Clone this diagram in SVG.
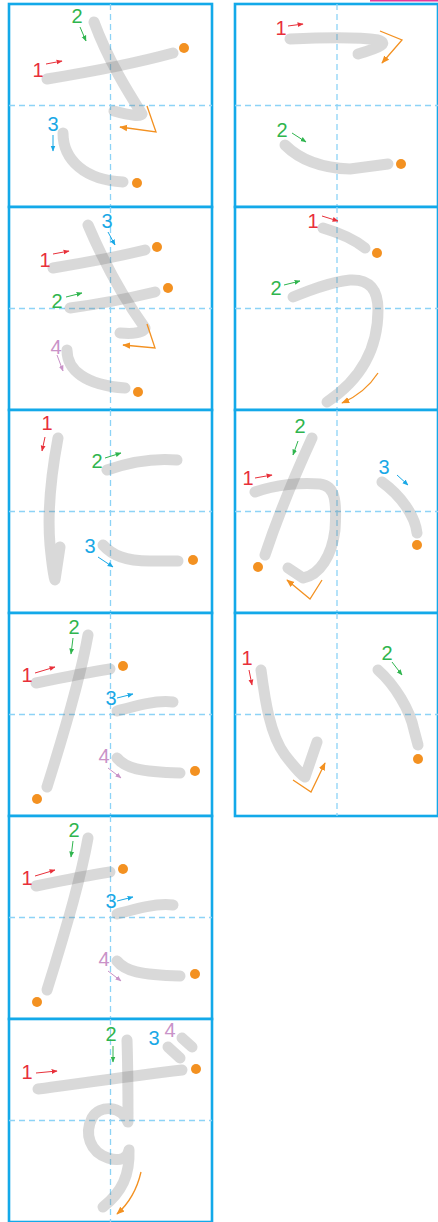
<svg xmlns="http://www.w3.org/2000/svg" width="438" height="1222" viewBox="0 0 438 1222">
<style>
.box{fill:#fff;stroke:#13a9e9;stroke-width:2.6}
.dash{stroke:#8dd3f6;stroke-width:1.3;stroke-dasharray:6 4;fill:none}
.st{fill:none;stroke:#777;stroke-opacity:0.28;stroke-width:11;stroke-linecap:round;stroke-linejoin:round}
.dot{fill:#f39121}
.n{font-family:"Liberation Sans",Arial,sans-serif;font-size:20px;text-anchor:middle}
.r{fill:#e8303a}.g{fill:#2fb54e}.b{fill:#19a8e6}.p{fill:#c993c8}
.ar{fill:none;stroke-width:1}
.or{fill:none;stroke:#f39121;stroke-width:1.3}
</style>
<defs>
<marker id="mr" viewBox="0 0 10 10" refX="9" refY="5" markerWidth="6" markerHeight="6" orient="auto" markerUnits="userSpaceOnUse"><path d="M0,1 L10,5 L0,9 z" fill="#e8303a"/></marker>
<marker id="mg" viewBox="0 0 10 10" refX="9" refY="5" markerWidth="6" markerHeight="6" orient="auto" markerUnits="userSpaceOnUse"><path d="M0,1 L10,5 L0,9 z" fill="#2fb54e"/></marker>
<marker id="mb" viewBox="0 0 10 10" refX="9" refY="5" markerWidth="6" markerHeight="6" orient="auto" markerUnits="userSpaceOnUse"><path d="M0,1 L10,5 L0,9 z" fill="#19a8e6"/></marker>
<marker id="mp" viewBox="0 0 10 10" refX="9" refY="5" markerWidth="6" markerHeight="6" orient="auto" markerUnits="userSpaceOnUse"><path d="M0,1 L10,5 L0,9 z" fill="#c993c8"/></marker>
<marker id="mo" viewBox="0 0 10 10" refX="9" refY="5" markerWidth="8" markerHeight="8" orient="auto" markerUnits="userSpaceOnUse"><path d="M0,1 L10,5 L0,9 z" fill="#f39121"/></marker>
</defs>
<rect x="0" y="0" width="438" height="1222" fill="#fff"/>
<rect x="370" y="0" width="68" height="1.5" fill="#e6399b"/>

<g id="cell-sa">
<rect class="box" x="9" y="4" width="203" height="203"/>
<path class="dash" d="M110.5,4 V207 M9,105.5 H212"/>
<path class="st" d="M47,79 C90,72 140,62 173,53"/>
<path class="st" d="M94,22 C108,60 128,92 142,114 Q140,118 114,111"/>
<path class="st" d="M63,133 C63,160 85,180 123,182"/>
<circle class="dot" cx="184" cy="48" r="5"/><circle class="dot" cx="137" cy="183" r="5"/>
<text class="n r" x="38" y="77">1</text><path class="ar" stroke="#e8303a" marker-end="url(#mr)" d="M46,64 L62,61"/>
<text class="n g" x="77" y="23">2</text><path class="ar" stroke="#2fb54e" marker-end="url(#mg)" d="M80,27 L86,41"/>
<text class="n b" x="53" y="131">3</text><path class="ar" stroke="#19a8e6" marker-end="url(#mb)" d="M53,135 L53,151"/>
<path class="or" marker-end="url(#mo)" d="M147,106 L156,132 L120,127"/>
</g>

<g id="cell-ko">
<rect class="box" x="235" y="4" width="203" height="203"/>
<path class="dash" d="M337,4 V207 M235,105.5 H438"/>
<path class="st" d="M290,39 C330,37 360,37 378,40 C388,43 382,47 358,54"/>
<path class="st" d="M285,145 C300,160 320,168 350,169 L388,164"/>
<circle class="dot" cx="401" cy="164" r="5"/>
<text class="n r" x="281" y="35">1</text><path class="ar" stroke="#e8303a" marker-end="url(#mr)" d="M288,26 L303,24"/>
<text class="n g" x="282" y="137">2</text><path class="ar" stroke="#2fb54e" marker-end="url(#mg)" d="M292,133 L306,142"/>
<path class="or" marker-end="url(#mo)" d="M380,31 L402,40 L382,63"/>
</g>

<g id="cell-ki">
<rect class="box" x="9" y="207" width="203" height="203"/>
<path class="dash" d="M110.5,207 V410 M9,308.5 H212"/>
<path class="st" d="M53,268 C90,262 120,256 145,250"/>
<path class="st" d="M70,308 C100,304 130,298 155,292"/>
<path class="st" d="M88,225 C105,265 125,300 145,328 Q143,335 120,333"/>
<path class="st" d="M67,350 C67,370 85,385 125,388"/>
<circle class="dot" cx="157" cy="247" r="5"/><circle class="dot" cx="168" cy="288" r="5"/><circle class="dot" cx="138" cy="392" r="5"/>
<text class="n r" x="45" y="267">1</text><path class="ar" stroke="#e8303a" marker-end="url(#mr)" d="M53,254 L69,251"/>
<text class="n g" x="57" y="308">2</text><path class="ar" stroke="#2fb54e" marker-end="url(#mg)" d="M66,297 L82,293"/>
<text class="n b" x="107" y="228">3</text><path class="ar" stroke="#19a8e6" marker-end="url(#mb)" d="M108,232 L115,245"/>
<text class="n p" x="56" y="354">4</text><path class="ar" stroke="#c993c8" marker-end="url(#mp)" d="M57,355 L63,371"/>
<path class="or" marker-end="url(#mo)" d="M147,324 L155,348 L123,345"/>
</g>

<g id="cell-u">
<rect class="box" x="235" y="207" width="203" height="203"/>
<path class="dash" d="M337,207 V410 M235,308.5 H438"/>
<path class="st" d="M323,228 C340,233 355,240 365,248"/>
<path class="st" d="M293,297 C310,290 330,282 350,280 C370,279 378,290 378,310 C378,350 360,380 327,402"/>
<circle class="dot" cx="377" cy="253" r="5"/>
<text class="n r" x="313" y="228">1</text><path class="ar" stroke="#e8303a" marker-end="url(#mr)" d="M322,216 L338,221"/>
<text class="n g" x="276" y="295">2</text><path class="ar" stroke="#2fb54e" marker-end="url(#mg)" d="M284,285 L300,281"/>
<path class="or" marker-end="url(#mo)" d="M378,373 Q365,393 342,403"/>
</g>

<g id="cell-ni">
<rect class="box" x="9" y="410" width="203" height="203"/>
<path class="dash" d="M110.5,410 V613 M9,511.5 H212"/>
<path class="st" d="M58,438 C52,470 47,510 50,545 C52,565 53,575 55,580 L60,547"/>
<path class="st" d="M107,470 C130,462 155,458 177,460"/>
<path class="st" d="M103,545 C112,555 125,561 150,561 L178,561"/>
<circle class="dot" cx="193" cy="560" r="5"/>
<text class="n r" x="47" y="430">1</text><path class="ar" stroke="#e8303a" marker-end="url(#mr)" d="M45,437 L42,451"/>
<text class="n g" x="97" y="468">2</text><path class="ar" stroke="#2fb54e" marker-end="url(#mg)" d="M105,458 L121,453"/>
<text class="n b" x="90" y="553">3</text><path class="ar" stroke="#19a8e6" marker-end="url(#mb)" d="M98,557 L113,567"/>
</g>

<g id="cell-ka">
<rect class="box" x="235" y="410" width="203" height="203"/>
<path class="dash" d="M337,410 V613 M235,511.5 H438"/>
<path class="st" d="M255,492 C275,485 300,482 320,484 C335,486 337,500 335,530 C332,555 320,575 303,578 L288,568"/>
<path class="st" d="M312,438 C295,475 280,510 265,555"/>
<path class="st" d="M382,482 C400,495 415,515 417,533"/>
<circle class="dot" cx="258" cy="567" r="5"/><circle class="dot" cx="417" cy="545" r="5"/>
<text class="n r" x="248" y="485">1</text><path class="ar" stroke="#e8303a" marker-end="url(#mr)" d="M255,478 L272,475"/>
<text class="n g" x="300" y="433">2</text><path class="ar" stroke="#2fb54e" marker-end="url(#mg)" d="M298,441 L293,455"/>
<text class="n b" x="384" y="474">3</text><path class="ar" stroke="#19a8e6" marker-end="url(#mb)" d="M397,475 L408,485"/>
<path class="or" marker-end="url(#mo)" d="M322,580 L310,599 L287,580"/>
</g>

<g id="cell-ta1">
<rect class="box" x="9" y="613" width="203" height="203"/>
<path class="dash" d="M110.5,613 V816 M9,714.5 H212"/>
<path class="st" d="M36,683 C60,678 90,672 110,669"/>
<path class="st" d="M88,635 C80,680 65,730 47,787"/>
<path class="st" d="M117,711 C135,706 155,700 173,702"/>
<path class="st" d="M117,758 C125,768 140,772 180,773"/>
<circle class="dot" cx="123" cy="666" r="5"/><circle class="dot" cx="37" cy="799" r="5"/><circle class="dot" cx="195" cy="771" r="5"/>
<text class="n r" x="27" y="682">1</text><path class="ar" stroke="#e8303a" marker-end="url(#mr)" d="M35,673 L55,667"/>
<text class="n g" x="74" y="634">2</text><path class="ar" stroke="#2fb54e" marker-end="url(#mg)" d="M73,638 L71,654"/>
<text class="n b" x="111" y="705">3</text><path class="ar" stroke="#19a8e6" marker-end="url(#mb)" d="M117,698 L133,694"/>
<text class="n p" x="104" y="763">4</text><path class="ar" stroke="#c993c8" marker-end="url(#mp)" d="M108,768 L121,778"/>
</g>

<g id="cell-i">
<rect class="box" x="235" y="613" width="203" height="203"/>
<path class="dash" d="M337,613 V816 M235,714.5 H438"/>
<path class="st" d="M261,670 C265,700 270,735 285,755 C295,768 303,776 305,777 L317,742"/>
<path class="st" d="M378,670 C395,685 410,710 414,730 L418,745"/>
<circle class="dot" cx="418" cy="759" r="5"/>
<text class="n r" x="247" y="665">1</text><path class="ar" stroke="#e8303a" marker-end="url(#mr)" d="M249,670 L252,685"/>
<text class="n g" x="387" y="660">2</text><path class="ar" stroke="#2fb54e" marker-end="url(#mg)" d="M392,662 L402,675"/>
<path class="or" marker-end="url(#mo)" d="M293,780 L311,792 L325,763"/>
</g>

<g id="cell-ta2" transform="translate(0,203)">
<rect class="box" x="9" y="613" width="203" height="203"/>
<path class="dash" d="M110.5,613 V816 M9,714.5 H212"/>
<path class="st" d="M36,683 C60,678 90,672 110,669"/>
<path class="st" d="M88,635 C80,680 65,730 47,787"/>
<path class="st" d="M117,711 C135,706 155,700 173,702"/>
<path class="st" d="M117,758 C125,768 140,772 180,773"/>
<circle class="dot" cx="123" cy="666" r="5"/><circle class="dot" cx="37" cy="799" r="5"/><circle class="dot" cx="195" cy="771" r="5"/>
<text class="n r" x="27" y="682">1</text><path class="ar" stroke="#e8303a" marker-end="url(#mr)" d="M35,673 L55,667"/>
<text class="n g" x="74" y="634">2</text><path class="ar" stroke="#2fb54e" marker-end="url(#mg)" d="M73,638 L71,654"/>
<text class="n b" x="111" y="705">3</text><path class="ar" stroke="#19a8e6" marker-end="url(#mb)" d="M117,698 L133,694"/>
<text class="n p" x="104" y="763">4</text><path class="ar" stroke="#c993c8" marker-end="url(#mp)" d="M108,768 L121,778"/>
</g>

<g id="cell-zu">
<rect class="box" x="9" y="1019" width="203" height="203"/>
<path class="dash" d="M110.5,1019 V1222 M9,1120.5 H212"/>
<path class="st" d="M38,1089 C90,1082 140,1075 182,1070"/>
<path class="st" d="M127,1040 C128,1070 128,1100 128,1122 C122,1106 100,1104 92,1118 C84,1134 90,1152 108,1158 C120,1162 128,1158 129,1150 C130,1175 122,1192 103,1207"/>
<path class="st" d="M182,1038 L192,1047"/>
<path class="st" d="M168,1047 L180,1058"/>
<circle class="dot" cx="196" cy="1069" r="5"/>
<text class="n r" x="27" y="1079">1</text><path class="ar" stroke="#e8303a" marker-end="url(#mr)" d="M36,1073 L57,1071"/>
<text class="n g" x="111" y="1041">2</text><path class="ar" stroke="#2fb54e" marker-end="url(#mg)" d="M113,1046 L113,1062"/>
<text class="n b" x="154" y="1045">3</text>
<text class="n p" x="170" y="1037">4</text>
<path class="or" marker-end="url(#mo)" d="M141,1172 Q135,1198 117,1214"/>
</g>
</svg>
